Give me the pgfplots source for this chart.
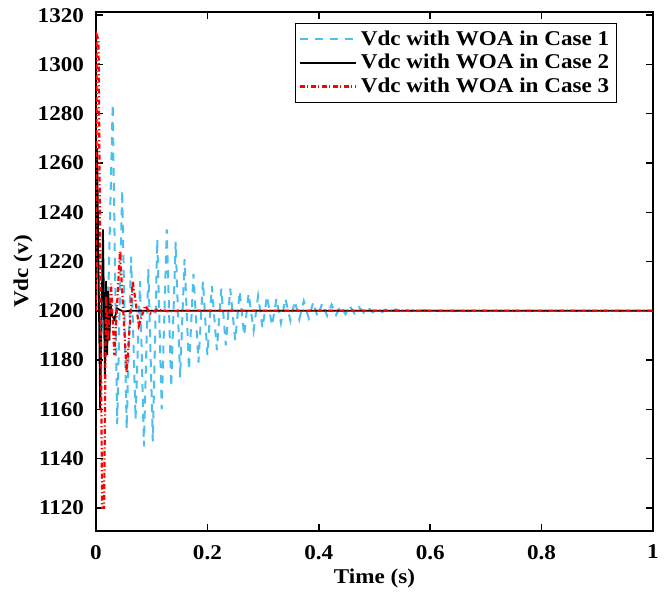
\documentclass[border=0pt]{standalone}
\usepackage{fontspec}
\setmainfont{Liberation Serif}[FakeStretch=1.1]
\usepackage{pgfplots}
\pgfplotsset{compat=1.18}

\definecolor{caseone}{rgb}{0.30,0.75,0.93}

\begin{document}
\begin{tikzpicture}
\begin{axis}[
  scale only axis,
  width=278.5pt,height=259.5pt,
  xmin=0,xmax=1,ymin=1110.6,ymax=1321.3,
  xtick={0,0.2,0.4,0.6,0.8,1},
  xticklabels={0,0.2,0.4,0.6,0.8,1},
  ytick={1120,1140,1160,1180,1200,1220,1240,1260,1280,1300,1320},
  /pgf/number format/1000 sep={},
  /pgf/number format/assume math mode=true,
  tick label style={font=\fontsize{10.5}{13}\selectfont\bfseries},
  xticklabel style={yshift=-3.5pt},
  yticklabel style={xshift=-2.5pt},
  label style={font=\fontsize{10.5}{13}\selectfont\bfseries},
  xlabel={Time (s)},ylabel={Vdc (v)},
  xlabel style={at={(axis description cs:0.5,-0.0906)},anchor=center},
  ylabel style={at={(axis description cs:-0.131,0.5)},anchor=center},
  tick align=inside,major tick length=3.5pt,
  axis line style={line width=0.75pt},
  every tick/.style={line width=0.75pt,black},
  legend style={font=\fontsize{10.5}{13}\selectfont\bfseries,
    at={(0.935,0.979)},anchor=north east,draw=black,line width=0.6pt,
    row sep=-1pt,inner sep=1.5pt,cells={anchor=west}},
  legend image code/.code={\draw[#1] (0pt,0pt) -- (28pt,0pt);},
]
% Case 1
\addplot[caseone,line width=1pt,dash pattern=on 4pt off 3.5pt] coordinates {
(0.000,1200) (0.006,1207) (0.011,1193) (0.016,1206) (0.021,1196)
(0.030,1284) (0.038,1154) (0.047,1249) (0.055,1152) (0.063,1222)
(0.071,1156) (0.079,1212) (0.086,1145) (0.094,1217) (0.102,1147)
(0.110,1229) (0.118,1160) (0.127,1233) (0.135,1169) (0.143,1228)
(0.151,1173) (0.159,1221) (0.167,1176) (0.175,1215) (0.184,1179)
(0.192,1212) (0.200,1182) (0.208,1210) (0.217,1184) (0.225,1209)
(0.233,1186) (0.241,1209) (0.250,1188) (0.258,1208) (0.266,1190)
(0.274,1207) (0.283,1192) (0.291,1206) (0.299,1193) (0.307,1206)
(0.316,1194) (0.324,1205) (0.332,1195) (0.340,1205) (0.349,1196)
(0.357,1204) (0.365,1196.5) (0.373,1204) (0.382,1197) (0.390,1203.5)
(0.398,1197.5) (0.406,1203) (0.415,1198) (0.423,1202.5) (0.431,1198.3)
(0.439,1202) (0.448,1198.6) (0.456,1201.8) (0.464,1199) (0.472,1201.5)
(0.481,1199.2) (0.489,1201.2) (0.497,1199.4) (0.505,1201) (0.514,1199.5)
(0.522,1200.8) (0.530,1199.6) (0.538,1200.6) (0.547,1199.7) (0.555,1200.4)
(0.563,1199.8) (0.571,1200.3) (0.580,1199.9) (0.588,1200.2) (0.600,1200)
(1.000,1200)};
% Case 2
\addplot[black,line width=0.9pt] coordinates {
(0,1200) (0.002,1266) (0.0075,1160) (0.0125,1233) (0.016,1173)
(0.018,1212) (0.020,1182) (0.022,1208) (0.024,1188) (0.026,1203)
(0.029,1198) (0.033,1196.5) (0.038,1201) (0.043,1200.3) (0.050,1199.7)
(0.060,1200) (1,1200)};
% Case 3
\addplot[red,line width=1.1pt,dash pattern=on 2.5pt off 1.2pt on 0.6pt off 1.2pt] coordinates {
(0,1200) (0.0012,1312) (0.0045,1310) (0.011,1120) (0.0145,1120)
(0.018,1206) (0.0215,1188) (0.027,1211) (0.033,1182) (0.043,1224)
(0.055,1175) (0.066,1212) (0.077,1194) (0.088,1202) (0.098,1199)
(0.110,1200.5) (0.130,1199.8) (0.150,1200) (1,1200)};
\legend{Vdc with WOA in Case 1,Vdc with WOA in Case 2,Vdc with WOA in Case 3}
\end{axis}
\path (current axis.south west) ++(-48pt,-29pt) coordinate (bl);
\path (current axis.north east) ++(7.5pt,6pt) coordinate (tr);
\path (bl) rectangle (tr);
\end{tikzpicture}
\end{document}
